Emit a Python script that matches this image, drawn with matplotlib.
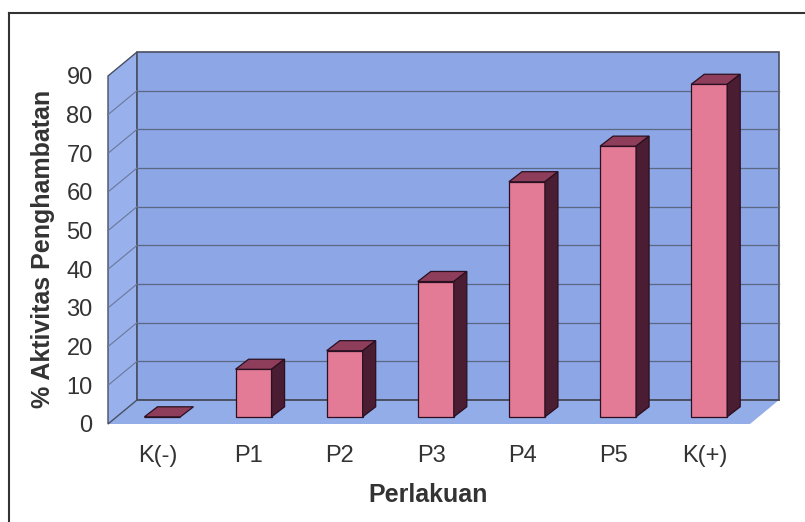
#!/usr/bin/env python3
"""Pseudo-3D bar chart of % inhibition activity per treatment."""
import matplotlib
matplotlib.use("Agg")
import matplotlib.pyplot as plt
from matplotlib.patches import Polygon
from matplotlib.lines import Line2D

categories = ["K(-)", "P1", "P2", "P3", "P4", "P5", "K(+)"]
values = [0, 12.3, 17.1, 35.0, 60.8, 70.0, 86.0]
yticks = [0, 10, 20, 30, 40, 50, 60, 70, 80, 90]

plt.rcParams["font.family"] = ["Liberation Sans", "DejaVu Sans"]

W, H = 805, 522
fig = plt.figure(figsize=(W / 100, H / 100), dpi=100)
fig.patch.set_facecolor("white")
ax = fig.add_axes([108 / W, 98 / H, 642 / W, 348 / H])
x0, x1 = -0.505, 6.54
ymax = 90
ax.set_xlim(x0, x1)
ax.set_ylim(0, ymax)
for s in ax.spines.values():
    s.set_visible(False)
ax.patch.set_visible(False)

# depth of the walls and of the bars, in data units
DX, DY = 0.318, 6.2
bx, by = 0.092, 1.85
bdx, bdy = 0.143, 2.6
bw = 0.395

wall = "#8ca6e6"
floor_c = "#93ade9"
side_c = "#98b0ec"
edge = "#4a4f60"

# floor
ax.add_patch(Polygon([(x0, 0), (x1, 0), (x1 + DX, DY), (x0 + DX, DY)],
                     closed=True, facecolor=floor_c, edgecolor="none",
                     clip_on=False, zorder=1))
# side wall
ax.add_patch(Polygon([(x0, 0), (x0, ymax), (x0 + DX, ymax + DY), (x0 + DX, DY)],
                     closed=True, facecolor=side_c, edgecolor=edge, lw=1.0,
                     clip_on=False, zorder=1))
# back wall
ax.add_patch(Polygon([(x0 + DX, DY), (x1 + DX, DY), (x1 + DX, ymax + DY), (x0 + DX, ymax + DY)],
                     closed=True, facecolor=wall, edgecolor=edge, lw=1.2,
                     clip_on=False, zorder=1))
# gridlines
for v in yticks[1:-1]:
    ax.plot([x0 + DX, x1 + DX], [v + DY, v + DY], color="#5c6782", lw=0.9,
            clip_on=False, zorder=2)
    ax.plot([x0, x0 + DX], [v, v + DY], color="#6a7898", lw=0.8,
            clip_on=False, zorder=2)
ax.plot([x0 + DX, x1 + DX], [DY, DY], color=edge, lw=1.2, clip_on=False, zorder=2)

# bars
pos = [i + bx for i in range(len(categories))]
ax.bar(pos, values, width=bw, bottom=by, color="#e37b97", edgecolor="#2a1020",
       lw=0.9, zorder=3, clip_on=False)
for c, v in zip(pos, values):
    l, r, t = c - bw / 2, c + bw / 2, by + v
    ax.add_patch(Polygon([(l, t), (r, t), (r + bdx, t + bdy), (l + bdx, t + bdy)],
                         closed=True, facecolor="#8e3d5a", edgecolor="#2a1020",
                         lw=0.9, clip_on=False, zorder=4))
    if v > 0:
        ax.add_patch(Polygon([(r, by), (r, t), (r + bdx, t + bdy), (r + bdx, by + bdy)],
                             closed=True, facecolor="#4b1d32", edgecolor="#2a1020",
                             lw=0.9, clip_on=False, zorder=4))

ax.set_yticks(yticks)
ax.set_yticklabels([str(v) for v in yticks])
ax.set_xticks([i + 0.04 for i in range(len(categories))])
ax.set_xticklabels(categories)
ax.tick_params(axis="y", length=0, pad=11, labelsize=17, labelcolor="#333333")
ax.tick_params(axis="x", length=0, pad=15, labelsize=17, labelcolor="#333333")

fig.text(428 / W, 1 - 495 / H, "Perlakuan", ha="center", va="center",
         fontsize=18, fontweight="bold", color="#333333")
fig.text(43 / W, 1 - 249 / H, "% Aktivitas Penghambatan", ha="center", va="center",
         rotation=90, fontsize=18, fontweight="bold", color="#333333")

# outer frame (top and left edges)
fig.add_artist(Line2D([9 / W, 1], [1 - 13 / H, 1 - 13 / H], color="#333333", lw=1.5,
                      transform=fig.transFigure))
fig.add_artist(Line2D([9 / W, 9 / W], [0, 1 - 13 / H], color="#333333", lw=1.5,
                      transform=fig.transFigure))

fig.savefig("out.png", dpi=100)
